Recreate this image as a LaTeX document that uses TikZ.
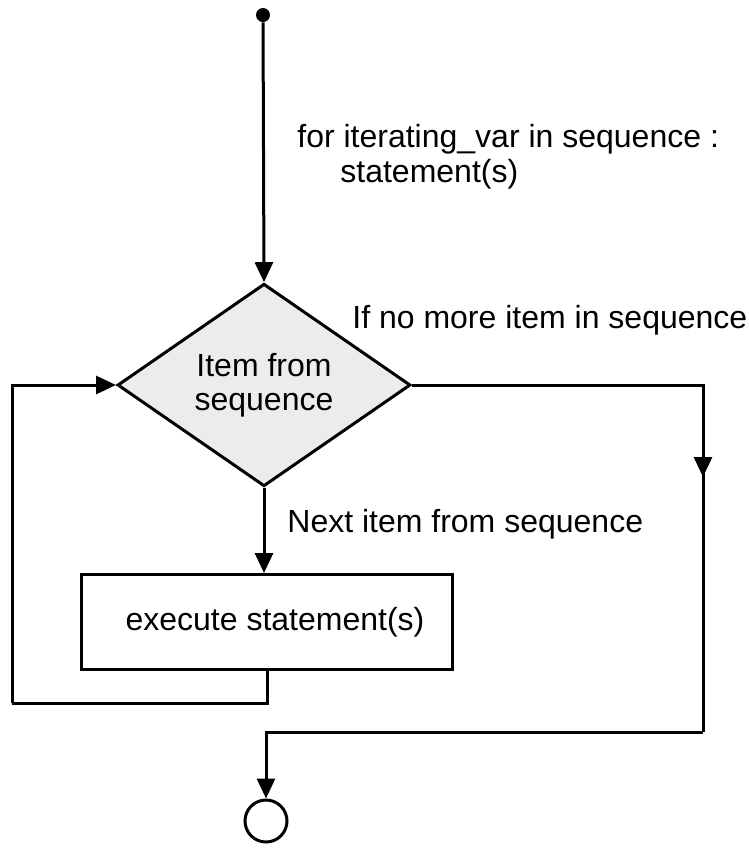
\documentclass[tikz,border=0pt]{standalone}
\usepackage{fontspec}
\setmainfont{Liberation Sans}
\usetikzlibrary{shapes.geometric,arrows.meta}
\tikzset{
  flow/.style={line width=1.5pt, -{Triangle[length=10pt,width=9pt]}},
  line/.style={line width=1.5pt},
  decide/.style={diamond, draw, line width=1.5pt, fill=gray!15, inner sep=0pt,
    minimum width=146.5pt, minimum height=97.5pt, align=center},
  work/.style={rectangle, draw, line width=1.5pt, minimum width=185.5pt,
    minimum height=47.5pt},
  lbl/.style={inner sep=0pt, anchor=base west}
}
\begin{document}
\begin{tikzpicture}[x=0.5pt,y=-0.5pt, font=\fontsize{16}{17}\selectfont]
\useasboundingbox (0,0) rectangle (749,848);
\node[circle, fill, inner sep=0pt, minimum size=7pt] (start) at (263,15){};
\node[decide] (test) at (264,385){Item from\\sequence};
\node[work] (exec) at (267,622){\hspace*{8pt}execute statement(s)};
\node[circle, draw, line width=1.5pt, inner sep=0pt, minimum size=21pt] (stop) at (266,821){};
\coordinate (loopbl) at (12,703);
\coordinate (rt) at (703,732);
\coordinate (rmid) at (703,477);
% labels
\node[lbl] (code1) at (297,147){for iterating\_var in sequence :};
\node[lbl] (code2) at (340,182){statement(s)};
\node[lbl] (nomore) at (352,328){If no more item in sequence};
\node[lbl] (next) at (287,532){Next item from sequence};
% connectors
\draw[flow](start) -- (test.north);
\draw[flow](test.south) -- (test.south |- exec.north);
\draw[line](exec.south) |- (loopbl);
\draw[flow](loopbl) |- (test.west);
\draw[line](test.east) -| (rt);
\draw[flow](test.east -| rmid) -- (rmid);
\draw[flow](rt) -| (stop.north);
\end{tikzpicture}
\end{document}
